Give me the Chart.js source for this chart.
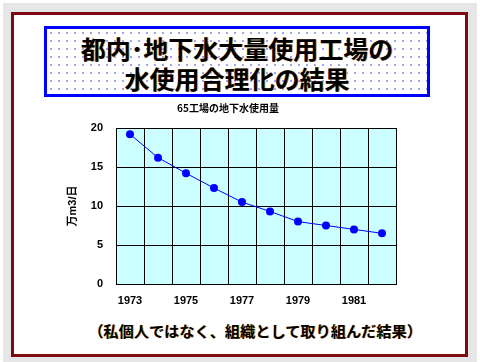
<!DOCTYPE html>
<html><head><meta charset="utf-8">
<script src="https://cdn.jsdelivr.net/npm/chart.js@4/dist/chart.umd.min.js"></script>
<style>
html,body{margin:0;padding:0;background:#fff;width:480px;height:362px;overflow:hidden;}
#gray{position:absolute;left:3px;top:3px;width:474px;height:359px;background:#e6e6e6;}
#frame{position:absolute;left:11px;top:12px;width:451px;height:339px;border:3px solid #7d0a10;background:#fff;}
#tbox{position:absolute;left:44px;top:26px;width:380px;height:65px;border:3px solid #0000ff;
 background-color:#fff;
 background-image:radial-gradient(circle at 1px 1px,#4040e0 0.5px,transparent 0.9px);
 background-size:8px 8px;background-position:3px 3px;}
.jt{position:absolute;font-family:"Noto Sans CJK JP","Noto Sans",sans-serif;font-weight:bold;color:#000;
 text-shadow:1px 0 0 rgba(230,150,30,0.7);white-space:nowrap;text-align:center;}
#t1{left:44px;width:386px;top:33px;font-size:25px;line-height:30px;}
#t2{left:44px;width:386px;top:63px;font-size:25px;line-height:30px;}
#foot{left:88px;width:334px;top:320px;font-size:15.2px;line-height:20px;}
#c{position:absolute;left:60px;top:100px;}
</style></head>
<body>
<div id="gray"></div>
<div id="frame"></div>
<div id="tbox"></div>
<div class="jt" id="t1">都内･地下水大量使用工場の</div>
<div class="jt" id="t2">水使用合理化の結果</div>
<div class="jt" id="foot">（私個人ではなく、組織として取り組んだ結果）</div>
<canvas id="c" width="360" height="215"></canvas>
<script>
const chartTitle = "65工場の地下水使用量";
const yAxisTitle = "万m3/日";
const years = ["1973","1974","1975","1976","1977","1978","1979","1980","1981","1982"];
const usage = [19.2, 16.2, 14.2, 12.3, 10.5, 9.3, 8.0, 7.5, 7.0, 6.5];
const shownYearLabels = ["1973","1975","1977","1979","1981"];

const bgPlugin = {
  id:'bg',
  beforeDraw(chart){
    const a = chart.chartArea, ctx = chart.ctx;
    ctx.save(); ctx.fillStyle = '#ccffff';
    ctx.fillRect(a.left, a.top, a.right-a.left, a.bottom-a.top);
    ctx.restore();
  }
};
const tickFont = {family:'"Liberation Sans", Arial, sans-serif', size:11, weight:'bold'};
new Chart(document.getElementById('c'), {
  type:'line',
  data:{labels:years, datasets:[{data:usage, borderColor:'#0000ff', borderWidth:1,
    backgroundColor:'#0000ff', pointRadius:4, pointBorderWidth:0, pointBackgroundColor:'#0000ff', tension:0}]},
  options:{
    responsive:false, animation:false, devicePixelRatio:1,
    layout:{padding:{left:0,right:24,top:0,bottom:0}},
    plugins:{legend:{display:false}, tooltip:{enabled:false},
      title:{display:true, text:chartTitle, color:'#000',
        font:{family:'"Noto Sans CJK JP", sans-serif', size:10, weight:'bold'}, padding:{top:2,bottom:14}}},
    scales:{
      x:{offset:true,
        grid:{offset:true, color:'#000', lineWidth:1, drawTicks:false},
        border:{color:'#000', width:1},
        ticks:{autoSkip:false, maxRotation:0, padding:10, color:'#000', font:tickFont,
          callback:function(v,i){ const l=this.getLabelForValue(v); return shownYearLabels.includes(l)?l:''; }},
        afterFit(s){ s.height = 31; }
      },
      y:{min:0, max:20,
        grid:{color:'#000', lineWidth:1, drawTicks:false},
        border:{color:'#000', width:1},
        ticks:{stepSize:5, padding:13, color:'#000', font:tickFont},
        title:{display:true, text:yAxisTitle, color:'#000', padding:{top:6,bottom:0},
          font:{family:'"Liberation Sans", "Noto Sans CJK JP", sans-serif', size:11, weight:'bold'}},
        afterFit(s){ s.width = 56; }
      }
    }
  },
  plugins:[bgPlugin]
});
</script>
</body></html>
